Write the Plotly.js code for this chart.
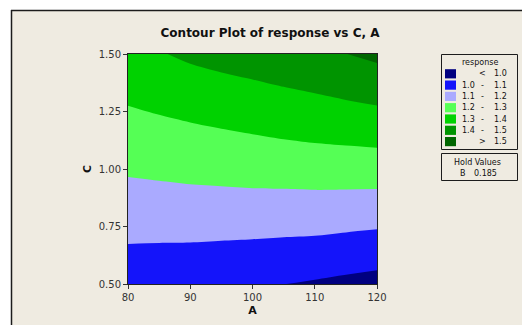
<!DOCTYPE html>
<html>
<head>
<meta charset="utf-8">
<script src="https://cdn.plot.ly/plotly-3.0.1.min.js"></script>
<style>html,body{margin:0;padding:0;background:#fff;}#chart{width:522px;height:325px;}</style>
</head>
<body>
<div id="chart"></div>
<script>
// ---- data ----
const A = [80, 85, 90, 95, 100, 105, 110, 115, 120];
const C = [0.5, 0.625, 0.75, 0.875, 1.0, 1.125, 1.25, 1.375, 1.5];
const response = [
  [1.040, 1.034, 1.028, 1.020, 1.012, 1.001, 0.990, 0.978, 0.966],
  [1.083, 1.080, 1.078, 1.074, 1.069, 1.062, 1.056, 1.046, 1.037],
  [1.126, 1.127, 1.128, 1.126, 1.125, 1.123, 1.121, 1.114, 1.107],
  [1.169, 1.174, 1.178, 1.180, 1.182, 1.182, 1.183, 1.181, 1.179],
  [1.212, 1.218, 1.225, 1.230, 1.236, 1.240, 1.245, 1.247, 1.249],
  [1.252, 1.262, 1.271, 1.280, 1.289, 1.298, 1.306, 1.312, 1.318],
  [1.292, 1.305, 1.318, 1.330, 1.341, 1.352, 1.364, 1.375, 1.386],
  [1.332, 1.350, 1.369, 1.382, 1.394, 1.408, 1.421, 1.437, 1.453],
  [1.372, 1.394, 1.416, 1.432, 1.446, 1.462, 1.479, 1.499, 1.521]
];
const levels = [1.0, 1.1, 1.2, 1.3, 1.4, 1.5];
const bandColors = ['#000080', '#1414FA', '#AAAAFF', '#55FF55', '#00D200', '#009400', '#006600'];
const xTicks = [80, 90, 100, 110, 120];
const yTicks = [0.5, 0.75, 1.0, 1.25, 1.5];
const yTickText = ['0.50', '0.75', '1.00', '1.25', '1.50'];
const holdName = 'B';
const holdValue = '0.185';

// ---- layout helpers (pixel -> paper) ----
const L = 128, R = 377, T = 54, B = 284;
const W = 522, H = 325;
const px = x => (x - L) / (R - L);
const py = y => (B - y) / (B - T);

const lvStart = levels[0], lvEnd = levels[levels.length - 1];
const lvSize = +(levels[1] - levels[0]).toFixed(6);
const n = bandColors.length;
// colour scale: band k centre sits at (k+0.5)/(n-1) of the map; last band clamps to 1
const cs = [];
for (let k = 0; k < n; k++) {
  const lo = k === 0 ? 0 : (k === n - 1 ? 0.95 : k / (n - 1));
  const hi = k === n - 2 ? 0.95 : (k === n - 1 ? 1 : (k + 1) / (n - 1));
  cs.push([lo, bandColors[k]]);
  cs.push([hi, bandColors[k]]);
}

const trace = {
  type: 'contour',
  x: A, y: C, z: response,
  colorscale: cs,
  showscale: false,
  autocontour: false,
  contours: {start: lvStart, end: lvEnd, size: lvSize, coloring: 'fill', showlines: false},
  line: {width: 0, smoothing: 0.8},
  hoverinfo: 'skip'
};

const beige = '#EFEBE1';
const dark = '#1c1c1c';
const shapes = [
  {type: 'rect', xref: 'paper', yref: 'paper', x0: px(0), x1: px(W), y0: py(0), y1: py(10), fillcolor: '#ffffff', line: {width: 0}, layer: 'below'},
  {type: 'rect', xref: 'paper', yref: 'paper', x0: px(0), x1: px(11), y0: py(0), y1: py(H), fillcolor: '#ffffff', line: {width: 0}, layer: 'below'},
  {type: 'line', xref: 'paper', yref: 'paper', x0: px(11.5), x1: px(11.5), y0: py(10), y1: py(H), line: {color: dark, width: 1.5}},
  {type: 'line', xref: 'paper', yref: 'paper', x0: px(11), x1: px(W), y0: py(10.5), y1: py(10.5), line: {color: dark, width: 1.5}},
  {type: 'rect', xref: 'paper', yref: 'paper', x0: px(441.5), x1: px(517.5), y0: py(54.5), y1: py(149.5), line: {color: dark, width: 1}, fillcolor: 'rgba(0,0,0,0)'},
  {type: 'rect', xref: 'paper', yref: 'paper', x0: px(441.5), x1: px(517.5), y0: py(153.5), y1: py(180.5), line: {color: dark, width: 1}, fillcolor: 'rgba(0,0,0,0)'}
];

const lf = {family: 'DejaVu Sans', size: 8, color: '#111'};
const annotations = [
  {text: 'response', x: px(480), y: py(62), xref: 'paper', yref: 'paper', showarrow: false, font: lf, xanchor: 'center', yanchor: 'middle'},
  {text: 'Hold Values', x: px(477), y: py(162.5), xref: 'paper', yref: 'paper', showarrow: false, font: lf, xanchor: 'center', yanchor: 'middle'},
  {text: holdName, x: px(462.5), y: py(173.5), xref: 'paper', yref: 'paper', showarrow: false, font: lf, xanchor: 'center', yanchor: 'middle'},
  {text: holdValue, x: px(485), y: py(173.5), xref: 'paper', yref: 'paper', showarrow: false, font: lf, xanchor: 'center', yanchor: 'middle'}
];
const rowY0 = 73.8, rowStep = 11.3;
for (let k = 0; k < n; k++) {
  const yc = rowY0 + k * rowStep;
  shapes.push({type: 'rect', xref: 'paper', yref: 'paper', x0: px(445), x1: px(456), y0: py(yc - 4.6), y1: py(yc + 4.6), fillcolor: bandColors[k], line: {width: 0}});
  let left = '', mid = '', right = '';
  if (k === 0) { mid = '<'; right = levels[0].toFixed(1); }
  else if (k === n - 1) { mid = '>'; right = levels[levels.length - 1].toFixed(1); }
  else { left = levels[k - 1].toFixed(1); mid = '-'; right = levels[k].toFixed(1); }
  if (left) annotations.push({text: left, x: px(468), y: py(yc), xref: 'paper', yref: 'paper', showarrow: false, font: lf, xanchor: 'center', yanchor: 'middle'});
  annotations.push({text: mid, x: px(482), y: py(yc), xref: 'paper', yref: 'paper', showarrow: false, font: lf, xanchor: 'center', yanchor: 'middle'});
  annotations.push({text: right, x: px(500.5), y: py(yc), xref: 'paper', yref: 'paper', showarrow: false, font: lf, xanchor: 'center', yanchor: 'middle'});
}

const tickFont = {family: 'DejaVu Sans', size: 10, color: '#333'};
const layout = {
  width: W, height: H,
  margin: {l: L, r: W - R, t: T, b: H - B, pad: 0},
  paper_bgcolor: beige,
  plot_bgcolor: beige,
  showlegend: false,
  title: {
    text: 'Contour Plot of response vs C, A',
    font: {family: 'DejaVu Sans', size: 12, color: '#111', weight: 'bold'},
    x: 270 / W, xref: 'container', xanchor: 'center',
    y: 1 - 33 / H, yref: 'container', yanchor: 'middle'
  },
  xaxis: {
    range: [80, 120], tickvals: xTicks, ticktext: xTicks.map(String),
    ticks: 'outside', ticklen: 4, tickcolor: '#333', tickfont: tickFont,
    showline: true, linecolor: '#222', linewidth: 1, mirror: true,
    showgrid: false, zeroline: false,
    title: {text: '<b>A</b>', font: {family: 'DejaVu Sans', size: 11, color: '#111'}, standoff: 4}
  },
  yaxis: {
    range: [0.5, 1.5], tickvals: yTicks, ticktext: yTickText,
    ticks: 'outside', ticklen: 4, tickcolor: '#333', tickfont: tickFont,
    showline: true, linecolor: '#222', linewidth: 1, mirror: true,
    showgrid: false, zeroline: false,
    title: {text: '<b>C</b>', font: {family: 'DejaVu Sans', size: 11, color: '#111'}, standoff: 4}
  },
  shapes: shapes,
  annotations: annotations
};

Plotly.newPlot('chart', [trace], layout, {displayModeBar: false, staticPlot: true});
</script>
</body>
</html>
